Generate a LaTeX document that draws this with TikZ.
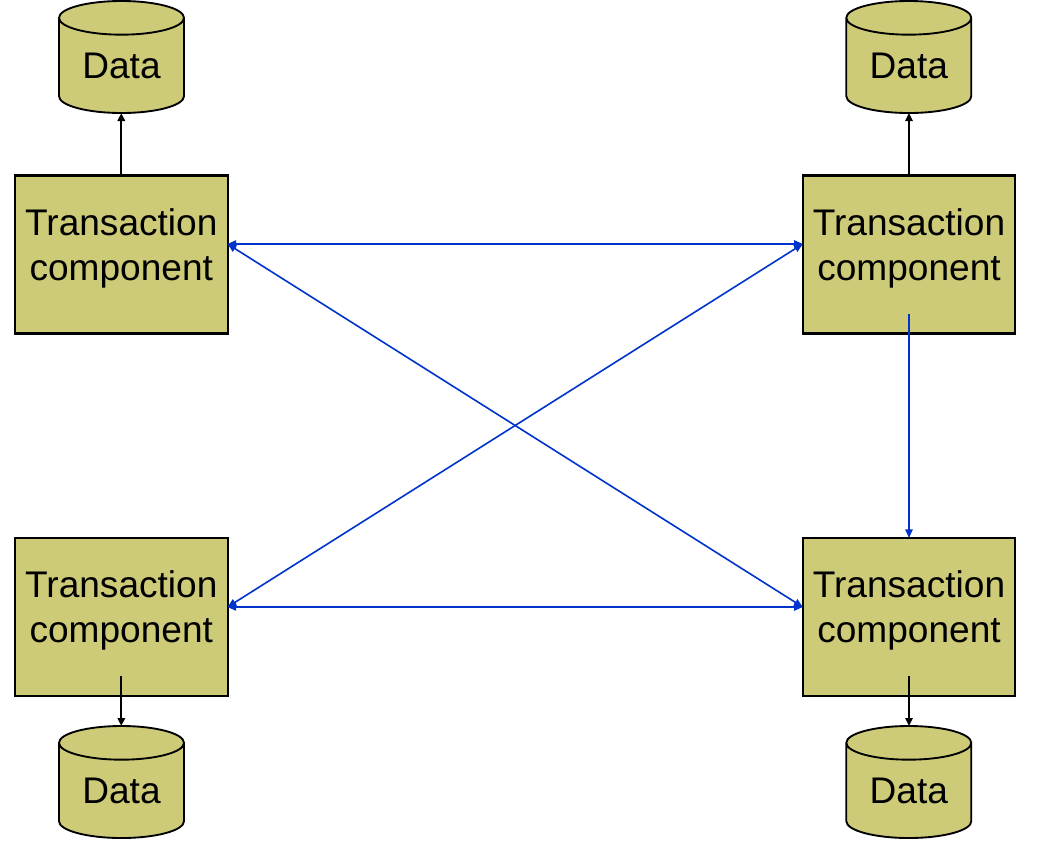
\documentclass[tikz,border=0pt]{standalone}
\usepackage{fontspec}
\setmainfont{Liberation Sans}
\usetikzlibrary{arrows.meta,shapes.geometric}
\definecolor{olivefill}{HTML}{CDCB78}
\definecolor{linkblue}{HTML}{0033CC}
\tikzset{
  box/.style={draw=black,fill=olivefill,line width=1.6pt,minimum width=159.4pt,minimum height=118.5pt,outer sep=0pt,inner sep=0pt,
    label={[name=#1,align=center,inner sep=0pt,yshift=4.6pt,font=\fontsize{27.8}{33.75}\selectfont]center:Transaction\\component}},
  db/.style={draw=black,fill=olivefill,line width=1.4pt,shape=cylinder,shape border rotate=90,aspect=0.43,minimum width=93.75pt,minimum height=84pt,outer sep=0pt,inner sep=0pt,anchor=shape center,font=\fontsize{27.8}{33.75}\selectfont},
  plain/.style={line width=1.5pt,draw=black,-{Triangle[length=6pt,width=5.5pt]}},
  link/.style={line width=1.2pt,draw=linkblue,-{Triangle[length=6.5pt,width=5.5pt]}},
  twoway/.style={line width=1.2pt,draw=linkblue,{Triangle[length=6.5pt,width=5.5pt]}-{Triangle[length=6.5pt,width=5.5pt]}}
}
\begin{document}
\begin{tikzpicture}[x=0.75pt,y=-0.75pt]
\useasboundingbox (0,0) rectangle (1049,840);
\node[box=tlt] (tl) at (121.3,254.5) {};
\node[box=trt] (tr) at (909,254.5) {};
\node[box=blt] (bl) at (121.3,617) {};
\node[box=brt] (br) at (909,617) {};
\node[db] (dtl) at (121.5,57) {\raisebox{0.4pt}{Data}};
\node[db] (dtr) at (908.8,57) {\raisebox{0.4pt}{Data}};
\node[db] (dbl) at (121.5,782) {\raisebox{0.4pt}{Data}};
\node[db] (dbr) at (908.8,782) {\raisebox{0.4pt}{Data}};
\coordinate (tle) at ([yshift=7.9pt]tl.east);
\coordinate (trw) at ([yshift=7.9pt]tr.west);
\coordinate (ble) at ([yshift=7.5pt]bl.east);
\coordinate (brw) at ([yshift=7.5pt]br.west);
\coordinate (tri) at ([yshift=15pt]tr.south);
\coordinate (bli) at ([yshift=15pt]bl.south);
\coordinate (bri) at ([yshift=15pt]br.south);
\draw[plain] (tl.north) -- (tl.north |- dtl.south);
\draw[plain] (tr.north) -- (tr.north |- dtr.south);
\draw[plain] (bli) -- (bli |- dbl.north);
\draw[plain] (bri) -- (bri |- dbr.north);
\draw[twoway] (tle) -- (trw);
\draw[twoway] (ble) -- (brw);
\draw[twoway] (tle) -- (brw);
\draw[twoway] (trw) -- (ble);
\draw[link] (tri) -- (br.north);
\end{tikzpicture}
\end{document}
